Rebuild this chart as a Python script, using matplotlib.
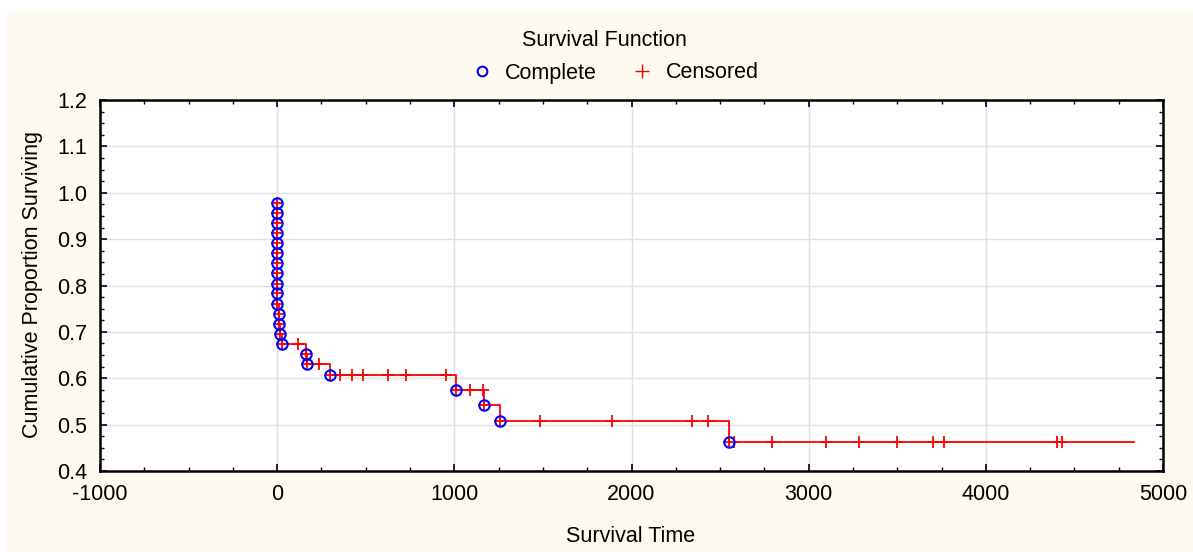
import matplotlib
matplotlib.use("Agg")
import matplotlib.pyplot as plt
from matplotlib.lines import Line2D
from matplotlib.patches import Rectangle
from matplotlib.ticker import MultipleLocator

plt.rcParams['font.family'] = ['Liberation Sans', 'DejaVu Sans']

# Survival data (time, cumulative proportion surviving, status)
times = [0, 0, 0, 0, 0, 0, 0, 0, 0, 0, 0, 8, 8, 15, 28,
         118, 164, 168, 237, 297,
         353, 423, 485, 626, 730, 955,
         1011, 1087, 1162, 1166, 1256,
         1486, 1889, 2340, 2431, 2549,
         2581, 2794, 3098, 3282, 3497, 3703, 3765, 4404, 4432, 4838]
survival = [0.978, 0.957, 0.935, 0.913, 0.891, 0.870, 0.848, 0.826, 0.804, 0.783,
            0.761, 0.739, 0.717, 0.696, 0.674,
            0.674, 0.652, 0.630, 0.630, 0.606,
            0.606, 0.606, 0.606, 0.606, 0.606, 0.606,
            0.575, 0.575, 0.575, 0.542, 0.508,
            0.508, 0.508, 0.508, 0.508, 0.462,
            0.462, 0.462, 0.462, 0.462, 0.462, 0.462, 0.462, 0.462, 0.462, 0.462]
complete = [1, 1, 1, 1, 1, 1, 1, 1, 1, 1, 1, 1, 1, 1, 1,
            0, 1, 1, 0, 1,
            0, 0, 0, 0, 0, 0,
            1, 0, 0, 1, 1,
            0, 0, 0, 0, 1,
            0, 0, 0, 0, 0, 0, 0, 0, 0, 0]

x_ticks = [-1000, 0, 1000, 2000, 3000, 4000, 5000]
y_ticks = [0.4, 0.5, 0.6, 0.7, 0.8, 0.9, 1.0, 1.1, 1.2]

W, H = 1193, 552
fig = plt.figure(figsize=(W / 100, H / 100), dpi=100, facecolor='white')
cream = '#FEFAF0'
fig.patches.append(Rectangle((7 / W, 0), 1 - 7 / W, 1 - 11 / H, transform=fig.transFigure,
                             facecolor=cream, edgecolor='none', zorder=-10))

ax = fig.add_axes([100 / W, 1 - 471 / H, (1163 - 100) / W, (471 - 100) / H])
ax.set_facecolor('white')

ax.plot(times, survival, drawstyle='steps-post', color='#FF0000', lw=1.3, zorder=3)
# '+' markers at every observation except the final end-of-curve point
ax.plot(times[:-1], survival[:-1], linestyle='none', marker='+', color='#FF0000',
        markersize=9, markeredgewidth=1.3, zorder=4)
ct = [t for t, c in zip(times, complete) if c]
cs = [s for s, c in zip(survival, complete) if c]
ax.plot(ct, cs, linestyle='none', marker='o', markerfacecolor='none',
        markeredgecolor='#0000FF', markersize=7.5, markeredgewidth=1.5, zorder=5)

ax.set_xlim(-1000, 5000)
ax.set_ylim(0.4, 1.2)
ax.set_xticks(x_ticks)
ax.set_xticklabels([str(v) for v in x_ticks])
ax.set_yticks(y_ticks)
ax.set_yticklabels([f"{v:.1f}" for v in y_ticks])
ax.xaxis.set_minor_locator(MultipleLocator(250))
ax.yaxis.set_minor_locator(MultipleLocator(0.025))
ax.tick_params(which='both', direction='in', top=True, right=True, colors='black',
               labelsize=15.5)
ax.tick_params(which='major', length=5, width=1.2, pad=9)
ax.tick_params(which='minor', length=3, width=1.0)
ax.grid(True, which='major', color='#E0E0E0', lw=1.0, zorder=0)
ax.set_axisbelow(True)
for sp in ax.spines.values():
    sp.set_linewidth(1.8)
    sp.set_color('black')

fig.text(631 / W, 1 - 537 / H, 'Survival Time', ha='center', va='center', fontsize=15.5)
fig.text(33 / W, 1 - 285 / H, 'Cumulative Proportion Surviving', ha='center', va='center',
         rotation=90, fontsize=15.5)
fig.text(604 / W, 1 - 41 / H, 'Survival Function', ha='center', va='center', fontsize=15.5)

handles = [Line2D([], [], linestyle='none', marker='o', markerfacecolor='none',
                  markeredgecolor='#0000FF', markersize=7, markeredgewidth=1.5),
           Line2D([], [], linestyle='none', marker='+', color='#FF0000',
                  markersize=10, markeredgewidth=1.0)]
fig.legend(handles, ['Complete', 'Censored'], loc='center', ncol=2,
           bbox_to_anchor=(615 / W, 1 - 73 / H), frameon=False, fontsize=15.5,
           handlelength=1.0, handletextpad=0.6, columnspacing=1.6)

fig.savefig('out.png', dpi=100, facecolor=fig.get_facecolor())
